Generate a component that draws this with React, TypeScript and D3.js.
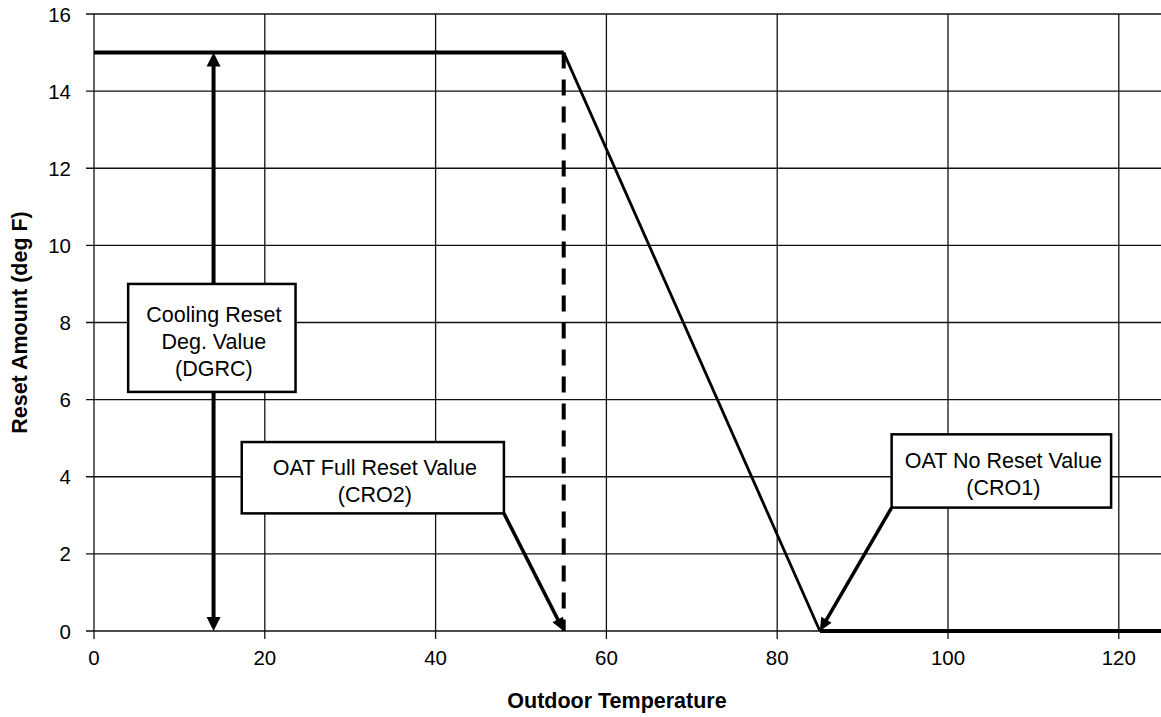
import React from "react";
import * as d3 from "d3";

const W = 1161;
const H = 717;

// Data
const xTicks = [0, 20, 40, 60, 80, 100, 120];
const yTicks = [0, 2, 4, 6, 8, 10, 12, 14, 16];
const resetFlatX = [0, 55];
const resetFlatY = [15, 15];
const rampX = [55, 85];
const rampY = [15, 0];
const zeroX = [85, 125];
const zeroY = [0, 0];
const fullResetOAT = 55;
const noResetOAT = 85;
const dgrcValue = 15;
const dgrcArrowX = 14;

const boxLabels = [
  { id: "dgrc", lines: ["Cooling Reset", "Deg. Value", "(DGRC)"], x0: 4, x1: 23.6, y0: 6.2, y1: 9.0 },
  { id: "cro2", lines: ["OAT Full Reset Value", "(CRO2)"], x0: 17.3, x1: 48, y0: 3.05, y1: 4.9 },
  { id: "cro1", lines: ["OAT No Reset Value", "(CRO1)"], x0: 93.4, x1: 119.1, y0: 3.2, y1: 5.1 },
];

const FONT = "'Liberation Sans', Arial, Helvetica, sans-serif";

function arrowHead(tx: number, ty: number, fx: number, fy: number, len: number, wid: number) {
  const dx = tx - fx;
  const dy = ty - fy;
  const d = Math.hypot(dx, dy);
  const ux = dx / d;
  const uy = dy / d;
  const bx = tx - ux * len;
  const by = ty - uy * len;
  const px = -uy * (wid / 2);
  const py = ux * (wid / 2);
  return `${tx},${ty} ${bx + px},${by + py} ${bx - px},${by - py}`;
}

export default function App() {
  const x = d3.scaleLinear().domain([0, 125]).range([94, 1161.5]);
  const y = d3.scaleLinear().domain([0, 16]).range([631, 14]);
  const line = d3
    .line<[number, number]>()
    .x((d) => x(d[0]))
    .y((d) => y(d[1]));

  const flat = resetFlatX.map((v, i) => [v, resetFlatY[i]] as [number, number]);
  const ramp = rampX.map((v, i) => [v, rampY[i]] as [number, number]);
  const zero = zeroX.map((v, i) => [v, zeroY[i]] as [number, number]);

  const cro2 = boxLabels[1];
  const cro1 = boxLabels[2];
  const p2from: [number, number] = [x(cro2.x1), y(cro2.y0)];
  const p2to: [number, number] = [x(fullResetOAT), y(0)];
  const p1from: [number, number] = [x(cro1.x0), y(cro1.y0)];
  const p1to: [number, number] = [x(noResetOAT), y(0)];

  const ax = x(dgrcArrowX);
  const aTop = y(dgrcValue);
  const aBot = y(0);

  const shorten = (from: [number, number], to: [number, number], s: number) => {
    const dx = to[0] - from[0];
    const dy = to[1] - from[1];
    const d = Math.hypot(dx, dy);
    return [to[0] - (dx / d) * s, to[1] - (dy / d) * s];
  };
  const p2end = shorten(p2from, p2to, 8);
  const p1end = shorten(p1from, p1to, 8);

  return (
    <svg
      width={W}
      height={H}
      style={{ position: "absolute", left: 0, top: 0, background: "#fff" }}
      fontFamily={FONT}
    >
      <rect x={0} y={0} width={W} height={H} fill="#fff" />
      {/* grid */}
      {yTicks.map((t) => (
        <line key={"gy" + t} x1={x(0) - 8} x2={W} y1={y(t)} y2={y(t)} stroke="#111" strokeWidth={1.3} />
      ))}
      {xTicks.map((t) => (
        <line key={"gx" + t} x1={x(t)} x2={x(t)} y1={y(16)} y2={y(0) + 8} stroke="#111" strokeWidth={1.3} />
      ))}
      {/* tick labels */}
      {yTicks.map((t) => (
        <text key={"ly" + t} x={71} y={y(t) + 7.5} textAnchor="end" fontSize={20.5} fill="#000">
          {t}
        </text>
      ))}
      {xTicks.map((t) => (
        <text key={"lx" + t} x={x(t)} y={665} textAnchor="middle" fontSize={20.5} fill="#000">
          {t}
        </text>
      ))}
      {/* axis titles */}
      <text x={617} y={708} textAnchor="middle" fontSize={21.5} fontWeight="bold" fill="#000">
        Outdoor Temperature
      </text>
      <text
        transform={`translate(27, ${(y(0) + y(16)) / 2}) rotate(-90)`}
        textAnchor="middle"
        fontSize={21.5}
        fontWeight="bold"
        fill="#000"
      >
        Reset Amount (deg F)
      </text>

      {/* double arrow DGRC */}
      <line x1={ax} x2={ax} y1={aTop + 12} y2={aBot - 12} stroke="#000" strokeWidth={4} />
      <polygon points={arrowHead(ax, aTop, ax, aBot, 14, 14)} fill="#000" />
      <polygon points={arrowHead(ax, aBot, ax, aTop, 14, 14)} fill="#000" />

      {/* data lines */}
      <path d={line(flat) || ""} fill="none" stroke="#000" strokeWidth={4} />
      <path d={line(ramp) || ""} fill="none" stroke="#000" strokeWidth={2.8} />
      <path d={line(zero) || ""} fill="none" stroke="#000" strokeWidth={4} />
      <line
        x1={x(fullResetOAT)}
        x2={x(fullResetOAT)}
        y1={y(dgrcValue)}
        y2={y(0)}
        stroke="#000"
        strokeWidth={4}
        strokeDasharray="16 11"
      />

      {/* pointers */}
      <line x1={p2from[0]} y1={p2from[1]} x2={p2end[0]} y2={p2end[1]} stroke="#000" strokeWidth={3.5} />
      <polygon points={arrowHead(p2to[0], p2to[1], p2from[0], p2from[1], 13, 12)} fill="#000" />
      <line x1={p1from[0]} y1={p1from[1]} x2={p1end[0]} y2={p1end[1]} stroke="#000" strokeWidth={3.5} />
      <polygon points={arrowHead(p1to[0], p1to[1], p1from[0], p1from[1], 13, 12)} fill="#000" />

      {/* boxes */}
      {boxLabels.map((b) => {
        const bx0 = x(b.x0);
        const bx1 = x(b.x1);
        const by0 = y(b.y1);
        const by1 = y(b.y0);
        const cx = (bx0 + bx1) / 2 + 2;
        const lh = b.lines.length === 3 ? 27 : 27;
        const total = lh * (b.lines.length - 1);
        const cy = (by0 + by1) / 2;
        return (
          <g key={b.id}>
            <rect x={bx0} y={by0} width={bx1 - bx0} height={by1 - by0} fill="#fff" stroke="#000" strokeWidth={2.5} />
            {b.lines.map((l, i) => (
              <text key={i} x={cx} y={cy - total / 2 + i * lh + 11} textAnchor="middle" fontSize={21.5} fill="#000">
                {l}
              </text>
            ))}
          </g>
        );
      })}
    </svg>
  );
}
